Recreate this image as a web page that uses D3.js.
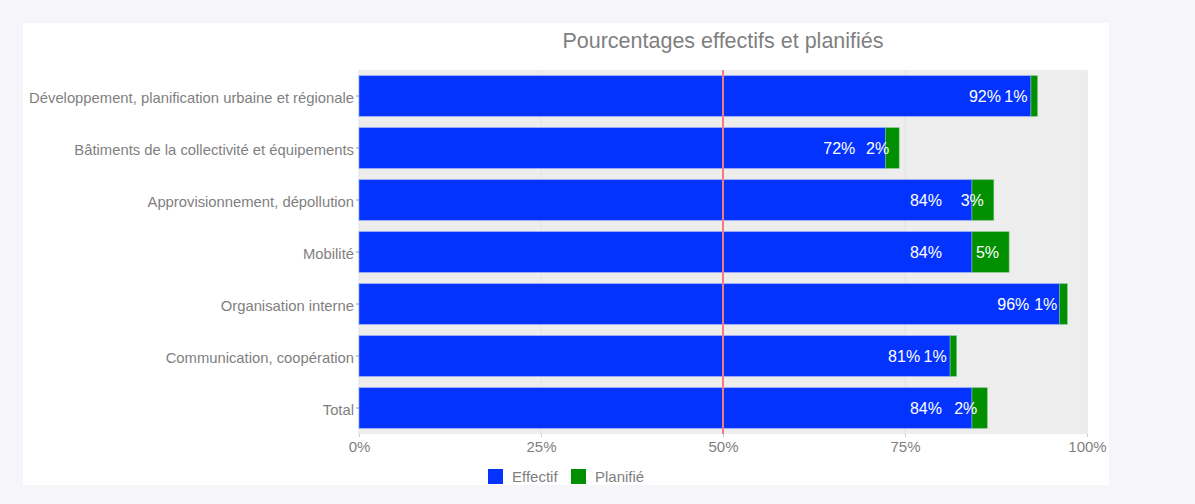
<!DOCTYPE html>
<html>
<head>
<meta charset="utf-8">
<script src="https://cdn.jsdelivr.net/npm/d3@7"></script>
<style>
  body { margin: 0; background: #f5f5fa; font-family: "Liberation Sans", Arial, sans-serif; }
  #chart { position: absolute; left: 0; top: 0; }
</style>
</head>
<body>
<div id="chart"></div>
<script>
let categories = [
  'Développement, planification urbaine et régionale',
  'Bâtiments de la collectivité et équipements',
  'Approvisionnement, dépollution',
  'Mobilité',
  'Organisation interne',
  'Communication, coopération',
  'Total'
]
let effectif = [92.3, 72.3, 84.2, 84.2, 96.2, 81.2, 84.2]
let planifie = [0.9, 1.9, 3.0, 5.1, 1.1, 0.9, 2.1]
let xTicks = [0, 0.25, 0.5, 0.75, 1]
let seriesNames = ['Effectif', 'Planifié']
let colors = ['#0433ff', '#008f00']

let width = 1195
let height = 504
let margin = { top: 70, left: 359, right: 108, bottom: 70 }
let font = '"Liberation Sans", Arial, sans-serif'

let svg = d3.select('#chart')
  .append('svg')
  .attr('width', width)
  .attr('height', height)

// white panel
svg.append('rect')
  .attr('x', 23).attr('y', 23)
  .attr('width', 1086).attr('height', 462)
  .attr('fill', 'white')

let xScale = d3.scaleLinear().domain([0, 1]).range([margin.left, width - margin.right])
let yScale = d3.scaleBand()
  .domain(categories)
  .range([margin.top, height - margin.bottom])
  .paddingInner(0.22)
  .paddingOuter(0.11)

// plot background
svg.append('rect')
  .attr('x', xScale(0)).attr('y', margin.top)
  .attr('width', xScale(1) - xScale(0))
  .attr('height', height - margin.bottom - margin.top)
  .attr('fill', '#ededed')

// grid lines
svg.selectAll('.grid')
  .data(xTicks)
  .enter()
  .append('line')
  .attr('x1', d => xScale(d)).attr('x2', d => xScale(d))
  .attr('y1', margin.top).attr('y2', height - margin.bottom)
  .attr('stroke', '#e2e2e2')
  .attr('stroke-width', 1)

let rows = categories.map((c, i) => ({ name: c, eff: effectif[i], plan: planifie[i] }))

let g = svg.selectAll('.row')
  .data(rows)
  .enter()
  .append('g')

g.append('rect')
  .attr('x', xScale(0))
  .attr('y', d => yScale(d.name))
  .attr('width', d => xScale(d.eff / 100) - xScale(0))
  .attr('height', yScale.bandwidth())
  .attr('fill', colors[0])
  .attr('stroke', '#8fa3ff')
  .attr('stroke-width', 0.6)

g.append('rect')
  .attr('x', d => xScale(d.eff / 100))
  .attr('y', d => yScale(d.name))
  .attr('width', d => xScale((d.eff + d.plan) / 100) - xScale(d.eff / 100))
  .attr('height', yScale.bandwidth())
  .attr('fill', colors[1])
  .attr('stroke', '#7fc47f')
  .attr('stroke-width', 0.6)

g.append('text')
  .attr('x', d => xScale(d.eff / 100) - 30)
  .attr('y', d => yScale(d.name) + yScale.bandwidth() / 2)
  .attr('dy', '0.35em')
  .attr('text-anchor', 'end')
  .attr('font-size', 16)
  .attr('fill', 'white')
  .text(d => Math.round(d.eff) + '%')

g.append('text')
  .attr('x', d => xScale((d.eff + d.plan) / 100) - 10)
  .attr('y', d => yScale(d.name) + yScale.bandwidth() / 2)
  .attr('dy', '0.35em')
  .attr('text-anchor', 'end')
  .attr('font-size', 16)
  .attr('fill', 'white')
  .text(d => Math.round(d.plan) + '%')

// 50% reference line
svg.append('line')
  .attr('x1', xScale(0.5)).attr('x2', xScale(0.5))
  .attr('y1', margin.top).attr('y2', height - margin.bottom)
  .attr('stroke', '#f47c7c')
  .attr('stroke-width', 2)

// axes
let yAxis = d3.axisLeft(yScale).tickSize(3).tickPadding(2)
let yG = svg.append('g')
  .attr('transform', `translate(${xScale(0)},0)`)
  .call(yAxis)
yG.select('.domain').remove()
yG.selectAll('line').attr('stroke', '#999')
yG.selectAll('text').attr('fill', '#7f7f7f').attr('font-size', 14.8)
  .attr('font-family', font)
  .attr('dy', '0.45em')

let xAxis = d3.axisBottom(xScale)
  .tickValues(xTicks)
  .tickFormat(d3.format('.0%'))
  .tickSize(3)
  .tickPadding(4)
let xG = svg.append('g')
  .attr('transform', `translate(0,${height - margin.bottom})`)
  .call(xAxis)
xG.select('.domain').remove()
xG.selectAll('line').attr('stroke', '#ccc')
xG.selectAll('text').attr('fill', '#7f7f7f').attr('font-size', 15)
  .attr('font-family', font)

// title
svg.append('text')
  .attr('x', xScale(0.5))
  .attr('y', 48)
  .attr('text-anchor', 'middle')
  .attr('font-size', 21.5)
  .attr('fill', '#7f7f7f')
  .text('Pourcentages effectifs et planifiés')

// legend
let legendX = [488, 571]
let legend = svg.selectAll('.legend')
  .data(seriesNames)
  .enter()
  .append('g')
  .attr('transform', (d, i) => `translate(${legendX[i]},469)`)

legend.append('rect')
  .attr('width', 15).attr('height', 15)
  .attr('fill', (d, i) => colors[i])

legend.append('text')
  .attr('x', 24).attr('y', 8)
  .attr('dy', '0.35em')
  .attr('font-size', 15)
  .attr('fill', '#7f7f7f')
  .text(d => d)
</script>
</body>
</html>
